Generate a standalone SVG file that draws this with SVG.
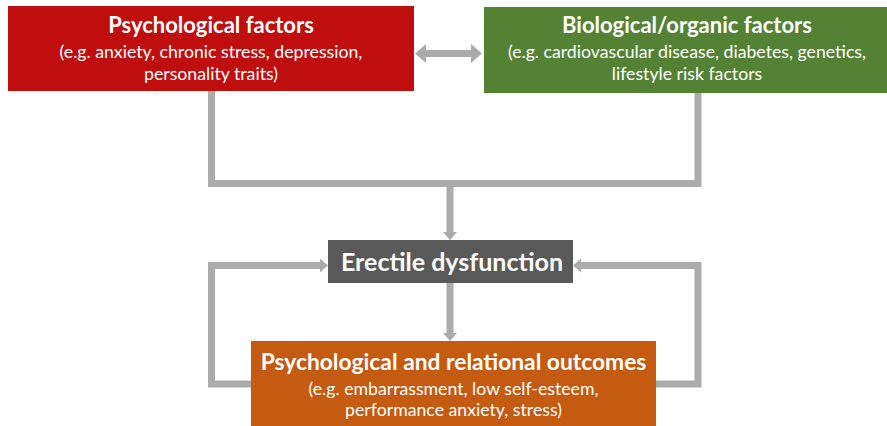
<svg xmlns="http://www.w3.org/2000/svg" width="887" height="426" viewBox="0 0 887 426">
  <defs>
    <style>
      .link { fill: none; stroke: #ababab; stroke-width: 7; stroke-linejoin: miter; }
      .head { fill: #ababab; }
      .title { font-family: Lato, "Liberation Sans", sans-serif; font-weight: bold; fill: #ffffff; text-anchor: middle; }
      .sub { font-family: Lato, "Liberation Sans", sans-serif; fill: #ffffff; text-anchor: middle; font-size: 17.7px; }
    </style>
  </defs>

  <!-- connectors -->
  <g id="connectors">
    <!-- both factor groups merge into one line -->
    <path class="link" d="M211.5,90 V183.5 H698 V93"/>
    <path class="link" d="M450,183.5 V233"/>
    <polygon class="head" points="443,232 457,232 450,240"/>
    <!-- erectile dysfunction leads to outcomes -->
    <path class="link" d="M450,283 V334"/>
    <polygon class="head" points="443,333 457,333 450,341"/>
    <!-- feedback loops back into erectile dysfunction -->
    <path class="link" d="M251,384 H211.5 V265.5 H321"/>
    <polygon class="head" points="320,258.5 320,272.5 328,265.5"/>
    <path class="link" d="M656,384 H698 V265.5 H580"/>
    <polygon class="head" points="581,258.5 581,272.5 573,265.5"/>
    <!-- two-way link between the factor boxes -->
    <rect class="head" x="424" y="50" width="50" height="7"/>
    <polygon class="head" points="415,53.5 426,44 426,63"/>
    <polygon class="head" points="482,53.5 471,44 471,63"/>
  </g>

  <g id="psychological-factors">
    <rect x="8" y="6" width="406" height="85" fill="#c00d0d"/>
    <text class="title" x="211" y="33" font-size="22">Psychological factors</text>
    <text class="sub" x="211" y="58">(e.g. anxiety, chronic stress, depression,</text>
    <text class="sub" x="211" y="80">personality traits)</text>
  </g>

  <g id="biological-factors">
    <rect x="484" y="7" width="403" height="86" fill="#548235"/>
    <text class="title" x="687" y="33" font-size="22">Biological/organic factors</text>
    <text class="sub" x="687" y="58">(e.g. cardiovascular disease, diabetes, genetics,</text>
    <text class="sub" x="687" y="80">lifestyle risk factors</text>
  </g>

  <g id="erectile-dysfunction">
    <rect x="328" y="240" width="245" height="43" fill="#595959"/>
    <text class="title" x="452" y="271" font-size="25">Erectile dysfunction</text>
  </g>

  <g id="outcomes">
    <rect x="251" y="341" width="405" height="90" fill="#c55a11"/>
    <text class="title" x="453.5" y="370" font-size="22.8">Psychological and relational outcomes</text>
    <text class="sub" x="453.5" y="395">(e.g. embarrassment, low self-esteem,</text>
    <text class="sub" x="453.5" y="416">performance anxiety, stress)</text>
  </g>
</svg>
